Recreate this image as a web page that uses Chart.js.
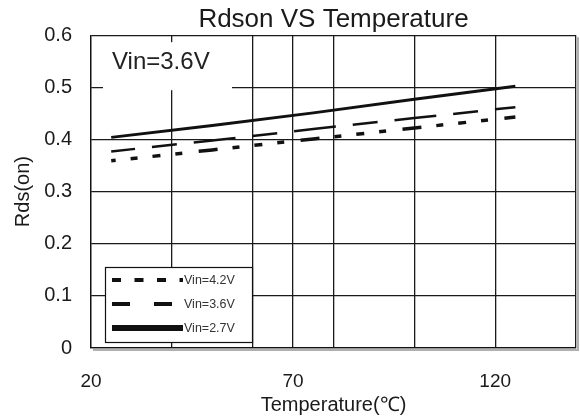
<!DOCTYPE html>
<html>
<head>
<meta charset="utf-8">
<script src="https://cdn.jsdelivr.net/npm/chart.js@4.4.0/dist/chart.umd.min.js"></script>
<style>
  html, body { margin: 0; padding: 0; background: #fff; }
  #wrap { width: 580px; height: 419px; }
</style>
</head>
<body>
<div id="wrap"><canvas id="c" width="580" height="419"></canvas></div>
<script>
// ---- data ----
const temperatures = [25, 50, 75, 100, 125];           // °C
const rdsVin27 = [0.404, 0.427, 0.451, 0.477, 0.502];   // Vin=2.7V (solid)
const rdsVin36 = [0.377, 0.398, 0.420, 0.441, 0.462];   // Vin=3.6V (long dash)
const rdsVin42 = [0.359, 0.380, 0.401, 0.422, 0.443];   // Vin=4.2V (short dash)
const seriesLabels = ['Vin=4.2V', 'Vin=3.6V', 'Vin=2.7V'];
const xGridTicks = [20, 40, 60, 70, 80, 100, 120, 140];
const xTickLabels = [20, 70, 120];
const yTickValues = [0, 0.1, 0.2, 0.3, 0.4, 0.5, 0.6];
const chartTitle = 'Rdson VS Temperature';
const xTitle = 'Temperature(\u2103)';
const yTitle = 'Rds(on)';
const noteText = 'Vin=3.6V';

const toPts = (arr) => temperatures.map((t, i) => ({ x: t, y: arr[i] }));
const INK = '#111';
const REG = "'Liberation Sans', Arial, sans-serif";

const legendStyles = [
  { dash: [9, 13.5], width: 4 },
  { dash: [18, 24], width: 4 },
  { dash: [], width: 6 }
];

const decor = {
  id: 'decor',
  beforeDatasetsDraw(chart) {
    const { ctx, chartArea: a } = chart;
    ctx.save();
    ctx.fillStyle = '#fff';
    ctx.fillRect(a.left + 12, a.top + 7, 129, 48);
    ctx.fillStyle = '#222';
    ctx.font = '24px ' + REG;
    ctx.textBaseline = 'middle';
    ctx.textAlign = 'left';
    ctx.fillText(noteText, a.left + 21, a.top + 27);
    ctx.restore();
  },
  afterDatasetsDraw(chart) {
    const { ctx, chartArea: a } = chart;
    ctx.save();
    // drop shadow of plot frame
    ctx.strokeStyle = '#b0b0b0';
    ctx.lineWidth = 2;
    ctx.beginPath();
    ctx.moveTo(a.right + 2, a.top + 2);
    ctx.lineTo(a.right + 2, a.bottom + 2);
    ctx.lineTo(a.left + 2, a.bottom + 2);
    ctx.stroke();
    // legend box
    const bx = a.left + 14, by = a.bottom - 81, bw = 147, bh = 75;
    ctx.fillStyle = '#fff';
    ctx.fillRect(bx, by, bw, bh);
    ctx.strokeStyle = '#111';
    ctx.lineWidth = 1.2;
    ctx.strokeRect(bx + 0.5, by + 0.5, bw, bh);
    const rows = [13, 37, 61];
    chart.data.datasets.slice().reverse().forEach((ds, i) => {
      const y = by + rows[i];
      const st = legendStyles[i];
      ctx.strokeStyle = '#111';
      ctx.lineWidth = st.width;
      ctx.setLineDash(st.dash);
      ctx.beginPath();
      ctx.moveTo(bx + 7, y);
      ctx.lineTo(bx + 78, y);
      ctx.stroke();
      ctx.setLineDash([]);
      ctx.fillStyle = '#333';
      ctx.font = '12.5px ' + REG;
      ctx.textBaseline = 'middle';
      ctx.textAlign = 'left';
      ctx.fillText(ds.label, bx + 79, y + 1);
    });
    ctx.restore();
  }
};

new Chart(document.getElementById('c'), {
  type: 'line',
  data: {
    datasets: [
      { label: seriesLabels[2], data: toPts(rdsVin27), borderColor: INK, borderWidth: 3, borderDash: [], pointRadius: 0, tension: 0 },
      { label: seriesLabels[1], data: toPts(rdsVin36), borderColor: INK, borderWidth: 2.5, borderDash: [25, 17, 42, 17], borderDashOffset: 60, pointRadius: 0, tension: 0 },
      { label: seriesLabels[0], data: toPts(rdsVin42), borderColor: INK, borderWidth: 3.5, borderDash: [19, 15, 7, 15, 8, 15, 7, 16.5], borderDashOffset: 14.5, pointRadius: 0, tension: 0 }
    ]
  },
  options: {
    responsive: false,
    animation: false,
    devicePixelRatio: 1,
    layout: { padding: { left: 0, right: 4, top: 0, bottom: 0 } },
    plugins: {
      legend: { display: false },
      tooltip: { enabled: false },
      title: {
        display: true, text: chartTitle, color: '#1a1a1a', fullSize: false,
        font: { family: REG, size: 26, weight: 'normal', lineHeight: 1.2 },
        padding: { top: 4, bottom: 0 }
      }
    },
    scales: {
      x: {
        type: 'linear', min: 20, max: 140,
        afterBuildTicks: (s) => { s.ticks = xGridTicks.map(v => ({ value: v })); },
        afterFit: (s) => { s.height = 71; s.paddingLeft = 0; s.paddingRight = 0; },
        grid: { color: '#1a1a1a', lineWidth: 1.3, drawTicks: false },
        border: { display: true, color: '#111', width: 1.3 },
        ticks: {
          autoSkip: false, maxRotation: 0, padding: 22, color: '#1a1a1a',
          font: { family: REG, size: 19 },
          callback: (v) => xTickLabels.includes(v) ? String(v) : ''
        },
        title: {
          display: true, text: xTitle, color: '#1a1a1a',
          font: { family: REG, size: 20 }, padding: { top: 0, bottom: 2 }
        }
      },
      y: {
        type: 'linear', min: 0, max: 0.6,
        afterBuildTicks: (s) => { s.ticks = yTickValues.map(v => ({ value: v })); },
        afterFit: (s) => { s.width = 91; s.paddingTop = 0; s.paddingBottom = 0; },
        grid: { color: '#1a1a1a', lineWidth: 1.3, drawTicks: false },
        border: { display: true, color: '#111', width: 1.3 },
        ticks: {
          padding: 19, color: '#1a1a1a',
          font: { family: REG, size: 20 },
          callback: (v) => v === 0 ? '0' : v.toFixed(1)
        },
        title: {
          display: true, text: yTitle, color: '#1a1a1a',
          font: { family: REG, size: 20 }, padding: { top: 11, bottom: 0 }
        }
      }
    }
  },
  plugins: [decor]
});
</script>
</body>
</html>
